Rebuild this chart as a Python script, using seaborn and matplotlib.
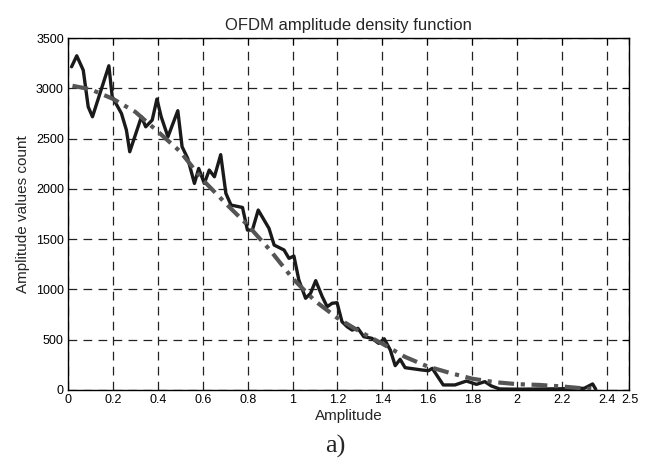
import seaborn as sns
import matplotlib.pyplot as plt
import pandas as pd

# measured histogram (solid line)
amp = [0.016, 0.039, 0.068, 0.09, 0.109, 0.182, 0.197, 0.238, 0.26, 0.275,
       0.327, 0.346, 0.375, 0.396, 0.415, 0.445, 0.489, 0.508, 0.533, 0.563,
       0.582, 0.607, 0.629, 0.652, 0.68, 0.703, 0.726, 0.762, 0.777, 0.799,
       0.821, 0.847, 0.895, 0.918, 0.962, 0.984, 1.006, 1.028, 1.058, 1.08,
       1.103, 1.132, 1.154, 1.176, 1.198, 1.22, 1.243, 1.265, 1.291, 1.317,
       1.353, 1.383, 1.408, 1.435, 1.457, 1.479, 1.501, 1.575, 1.605, 1.622,
       1.671, 1.723, 1.774, 1.819, 1.856, 1.885, 1.922, 2.0, 2.1, 2.2,
       2.299, 2.336, 2.35]
count = [3214, 3323, 3180, 2816, 2717, 3224, 2916, 2750, 2585, 2369,
         2717, 2617, 2684, 2893, 2717, 2518, 2777, 2419, 2303, 2054,
         2203, 2054, 2187, 2120, 2340, 1955, 1839, 1822, 1815, 1590,
         1590, 1789, 1607, 1441, 1392, 1309, 1332, 1093, 912, 961,
         1087, 928, 828, 862, 868, 679, 629, 596, 613, 530,
         514, 464, 509, 398, 242, 305, 222, 199, 192, 215,
         50, 50, 89, 56, 83, 40, 10, 8, 10, 12,
         17, 60, 7]

# fitted density (dash-dot line)
fit_amp = [0.02, 0.1, 0.2, 0.3, 0.4, 0.5, 0.6, 0.7, 0.8, 0.9, 1.0,
           1.1, 1.2, 1.3, 1.4, 1.5, 1.6, 1.7, 1.8, 1.9, 2.0, 2.1, 2.2, 2.3, 2.33]
fit_count = [3025, 2990, 2895, 2765, 2570, 2370, 2090, 1860, 1640, 1390, 1110,
             885, 715, 580, 460, 330, 235, 170, 112, 78, 58, 50, 35, 15, 10]

x_ticks = [0, 0.2, 0.4, 0.6, 0.8, 1, 1.2, 1.4, 1.6, 1.8, 2, 2.2, 2.4, 2.5]
x_labels = ['0', '0.2', '0.4', '0.6', '0.8', '1', '1.2', '1.4', '1.6', '1.8',
            '2', '2.2', '2.4', '2.5']
y_ticks = [0, 500, 1000, 1500, 2000, 2500, 3000, 3500]

df = pd.DataFrame({'amp': amp, 'count': count})
df_fit = pd.DataFrame({'amp': fit_amp, 'count': fit_count})

sns.set_style('white')
plt.rcParams['font.family'] = ['Liberation Sans', 'DejaVu Sans']

fig = plt.figure(figsize=(6.55, 4.71), dpi=100)
ax = fig.add_axes([0.1038, 0.172, 0.8572, 0.7473])

sns.lineplot(data=df, x='amp', y='count', sort=False, estimator=None,
             color='#1a1a1a', linewidth=2.4, ax=ax, zorder=3)
sns.lineplot(data=df_fit, x='amp', y='count', sort=False, estimator=None,
             color='#555555', linewidth=3.0, ax=ax, zorder=4,
             linestyle=(0, (3.8, 1.6, 1.0, 1.6)))

ax.set_xlim(0, 2.5)
ax.set_ylim(0, 3500)
ax.set_xticks(x_ticks)
ax.set_xticklabels(x_labels)
ax.set_yticks(y_ticks)
ax.tick_params(direction='in', top=True, right=True, length=5, width=0.8,
               labelsize=9, colors='black', pad=3)
ax.grid(True, color='#222222', linestyle=(0, (7, 5)), linewidth=0.9)
for s in ax.spines.values():
    s.set_color('black')
    s.set_linewidth(1.0)

ax.set_title('OFDM amplitude density function', fontsize=12, pad=6)
ax.set_xlabel('Amplitude', fontsize=11, labelpad=2)
ax.set_ylabel('Amplitude values count', fontsize=11, labelpad=4)
fig.text(0.512, 0.052, 'a)', fontsize=19, family='Liberation Serif',
         ha='center', va='center')

fig.savefig('out.png', dpi=100)
